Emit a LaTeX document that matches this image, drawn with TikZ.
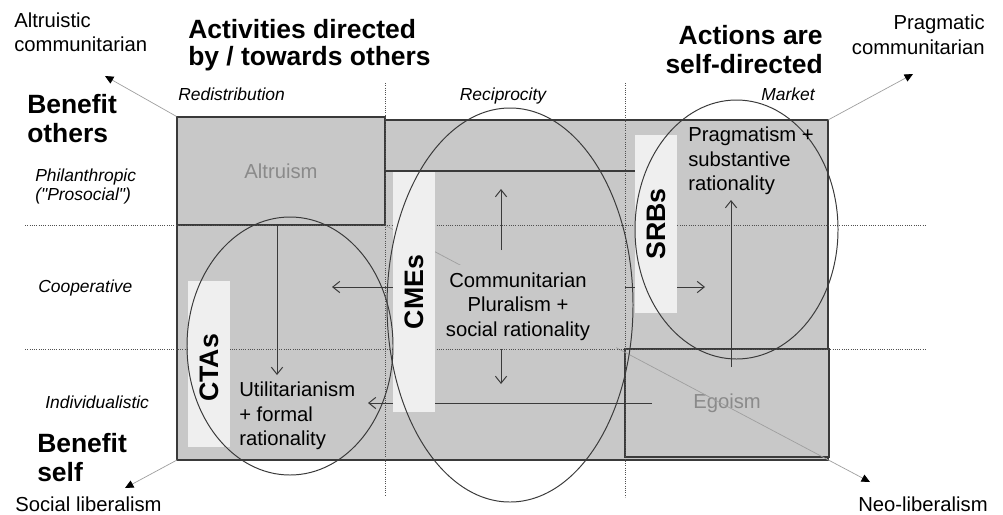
\documentclass[tikz,border=0pt]{standalone}
\usepackage{fontspec}
\setmainfont{Liberation Sans}
\usepackage{tikz}
\usetikzlibrary{arrows.meta}
\definecolor{fieldgray}{HTML}{C8C8C8}
\definecolor{tagwhite}{HTML}{EFEFEF}
\definecolor{edgegray}{HTML}{3A3A3A}
\definecolor{fadetext}{HTML}{8A8A8A}
\definecolor{guidegray}{HTML}{505050}
\tikzset{
  zone/.style={draw=edgegray, fill=fieldgray, line width=0.9pt, inner sep=0pt,
    font=\fontsize{14.4}{17.4}\selectfont, text=fadetext},
  tag/.style={fill=tagwhite, rotate=90, inner sep=0pt, minimum height=1.05cm,
    font=\fontsize{19}{21}\selectfont\bfseries},
  flow/.style={draw=edgegray, line width=0.7pt, -{Straight Barb[length=5pt, width=8pt]}},
  pointer/.style={draw=gray!75, line width=0.5pt, -{Triangle[length=6pt, width=5.5pt, color=black]}},
  ring/.style={draw=edgegray, line width=0.7pt},
  guide/.style={draw=guidegray, densely dotted, line width=0.6pt},
  body/.style={font=\fontsize{14.4}{17.4}\selectfont, inner sep=0pt},
  head/.style={font=\fontsize{18.8}{21}\selectfont\bfseries, inner sep=0pt},
  axis/.style={font=\fontsize{12.4}{13}\selectfont\itshape, inner sep=0pt}
}

\begin{document}
\begin{tikzpicture}[x=0.025cm, y=-0.025cm]
\useasboundingbox (0,0) rectangle (1003,514);

\filldraw[fill=fieldgray, draw=edgegray, line width=0.9pt] (177,120) rectangle (828,460);
\coordinate (fieldNE) at (828,120);
\coordinate (fieldSW) at (177,460);
\node[zone, minimum width=5.2cm, minimum height=2.7cm] (altruism) at (281,171) {Altruism};
\node[zone, minimum width=5.1cm, minimum height=2.7cm] (egoism) at (727,403) {Egoism};

\coordinate (tipAltruistic) at (105,76);
\coordinate (tipPragmatic) at (913,74);
\coordinate (tipSocial) at (125,488);
\coordinate (tipNeo) at (870,482);
\draw[pointer] (altruism.north west) -- (tipAltruistic);
\draw[pointer] (fieldNE) -- (tipPragmatic);
\draw[pointer] (fieldSW) -- (tipSocial);
\draw[pointer] (altruism.south east) -- (tipNeo);

\node[body, align=center, fill=fieldgray, inner xsep=0.65cm, inner ysep=0.2cm] (pluralism) at (518,306.5)
  {Communitarian\\Pluralism +\\social rationality};

\foreach \ax/\ay/\bx/\by in {385/83/385/495, 625/83/625/497, 25/225/925/225, 25/349/925/349}
  \draw[guide] (\ax,\ay) -- (\bx,\by);

\coordinate (splitW) at (385,171);
\coordinate (splitE) at (636,171);
\draw[draw=edgegray, line width=0.8pt] (splitW) -- (splitE);

\foreach \sx/\sy/\ex/\ey [count=\i] in {501/250/501/189, 501/349/501/384, 410/287/332/287,
    625/287/705/287, 652/403/368/403, 277/225/277/375, 731/367/731/200}
{
    \coordinate (flow\i-s) at (\sx,\sy);
    \coordinate (flow\i-e) at (\ex,\ey);
    \draw[flow] (flow\i-s) -- (flow\i-e);
}

\node[tag, minimum width=6.0cm] (cmes) at (414,292) {CMEs};
\node[tag, minimum width=4.45cm] (srbs) at (656,224) {SRBs};
\node[tag, minimum width=4.15cm] (ctas) at (209,364) {CTAs\hspace*{0.2cm}};

\draw[ring] (290,346) ellipse [x radius=103, y radius=129];
\draw[ring] (510,305) ellipse [x radius=123, y radius=197];
\draw[ring] (736.5,229.5) ellipse [x radius=101.5, y radius=129.5];

\node[body, align=left, anchor=north west] (pragmatism) at (688,127) {Pragmatism +\\substantive\\rationality};
\node[body, align=left, anchor=north west] (utilitarian) at (239,382) {Utilitarianism\\+ formal\\rationality};

\node[body, align=left, anchor=north west] (altruistic) at (14,12.5) {Altruistic\\communitarian};
\node[body, align=right, anchor=north east] (pragmatic) at (985,15) {Pragmatic\\communitarian};
\node[body, anchor=base west] (social) at (15,511) {Social liberalism};
\node[body, anchor=base east] (neo) at (988,511) {Neo-liberalism};

\node[head, align=left, anchor=north west, font=\fontsize{18.8}{19.4}\selectfont\bfseries] (others) at (188,19)
  {Activities directed\\by / towards others};
\node[head, align=right, anchor=north east] (selfdir) at (823,25) {Actions are\\self-directed};
\node[head, align=left, anchor=north west] (benefitothers) at (27,94) {Benefit\\others};
\node[head, align=left, anchor=north west] (benefitself) at (37,433) {Benefit\\self};

\foreach \lbl/\pos/\anc [count=\i] in {Redistribution/{178,100}/base west, Reciprocity/{503,100}/base,
    Market/{815,100}/base east, Cooperative/{38,292}/base west, Individualistic/{45,408}/base west}
{
    \node[axis, anchor=\anc] (axis\i) at (\pos) {\lbl};
}
\node[axis, align=left, anchor=north west] (philanthropic) at (35,169)
  {Philanthropic\\(\textquotedbl Prosocial\textquotedbl)};
\end{tikzpicture}
\end{document}
